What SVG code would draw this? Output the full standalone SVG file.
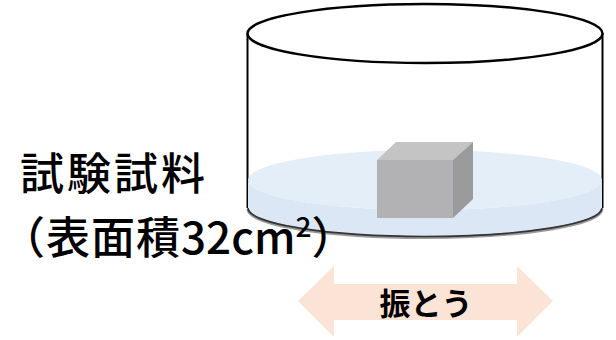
<svg xmlns="http://www.w3.org/2000/svg" width="616" height="340" viewBox="0 0 616 340">
  <style>
    .label { font-family: "Noto Sans CJK JP", "Noto Sans", sans-serif; fill: #000; }
    .rim { fill: #fff; stroke: #000; stroke-width: 2.5; }
    .wall { stroke: #000; stroke-width: 2; fill: none; }
  </style>
  <rect width="616" height="340" fill="#fff"/>

  <!-- beaker with water -->
  <g id="beaker">
    <line class="wall" x1="247.5" y1="33" x2="247.5" y2="208"/>
    <line class="wall" x1="602.5" y1="33" x2="602.5" y2="208"/>
    <!-- water body -->
    <path d="M248 180 L248 208 A177 29 0 0 0 602 208 L602 180 A177 30 0 0 1 248 180 Z" fill="#dbe7f4"/>
    <!-- water surface -->
    <ellipse cx="425" cy="180" rx="177" ry="30" fill="#e3eef8"/>
    <!-- bottom edge -->
    <path d="M248 209 A177 28.5 0 0 0 602 209" fill="none" stroke="#9a9a9a" stroke-width="3"/>
    <path d="M248 208 A177 28.5 0 0 0 602 208" fill="none" stroke="#333" stroke-width="1.6"/>
    <ellipse class="rim" cx="425" cy="33.5" rx="177.5" ry="29.5"/>
  </g>

  <!-- test specimen block -->
  <g id="specimen">
    <polygon points="377,160 396,142 473,142 453,160" fill="#c4c4c4"/>
    <polygon points="453,160 473,142 473,199 453,218" fill="#9b9b9b"/>
    <rect x="377" y="160" width="76" height="58" fill="#b2b2b4"/>
  </g>

  <!-- specimen label -->
  <g id="specimen-label">
    <text class="label" x="20" y="190" font-size="44" font-weight="500" letter-spacing="3">試験試料</text>
    <text class="label" x="1" y="254" font-size="44" font-weight="500"><tspan letter-spacing="1">（表面積</tspan>32cm<tspan font-size="28" dy="-17">2</tspan><tspan dy="17">）</tspan></text>
  </g>

  <!-- shaking direction arrow -->
  <g id="shake">
    <polygon points="298,301 334,266 334,284 517,284 517,266 553,301 517,337 517,320 334,320 334,337" fill="#fbe4d5"/>
    <text class="label" x="426" y="315" font-size="31" font-weight="bold" text-anchor="middle">振とう</text>
  </g>
</svg>
